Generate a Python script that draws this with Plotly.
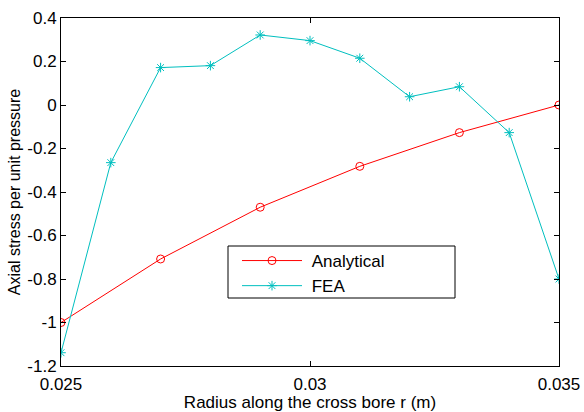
import plotly.graph_objects as go

# Radial positions (m)
r_analytical = [0.025, 0.027, 0.029, 0.031, 0.033, 0.035]
r_fea = [0.025, 0.026, 0.027, 0.028, 0.029, 0.030, 0.031, 0.032, 0.033, 0.034, 0.035]

# Axial stress normalised by internal pressure
stress_analytical = [-1.0, -0.708, -0.470, -0.282, -0.127, 0.0]
stress_fea = [-1.139, -0.265, 0.172, 0.181, 0.322, 0.296, 0.215, 0.038, 0.084, -0.127, -0.80]

x_ticks = [0.025, 0.03, 0.035]
x_ticklabels = ["0.025", "0.03", "0.035"]
y_ticks = [-1.2, -1.0, -0.8, -0.6, -0.4, -0.2, 0, 0.2, 0.4]
y_ticklabels = ["-1.2", "-1", "-0.8", "-0.6", "-0.4", "-0.2", "0", "0.2", "0.4"]

RED = "#ff0000"
CYAN = "#00bfbf"
FONT = "Liberation Sans, Arial"
NBSP = "\u00a0"

# plot-area geometry in pixels
W, H = 584, 412
L, R, T, B = 61, 25, 18, 46
PW, PH = W - L - R, H - T - B


def px_x(x):
    return (x - L) / PW


def px_y(y):
    return (H - B - y) / PH


fig = go.Figure()
fig.add_trace(go.Scatter(
    x=r_analytical, y=stress_analytical, name=NBSP + "Analytical",
    mode="lines+markers",
    line=dict(color=RED, width=1),
    marker=dict(symbol="circle-open", size=8, color=RED, line=dict(width=1)),
))
fig.add_trace(go.Scatter(
    x=r_fea, y=stress_fea, name=NBSP + "FEA",
    mode="lines+markers",
    line=dict(color=CYAN, width=1),
    marker=dict(symbol="asterisk-open", size=8, color=CYAN, line=dict(width=1, color=CYAN)),
))

axis_common = dict(
    showgrid=False, zeroline=False, automargin=False,
    showline=True, linecolor="black", linewidth=1,
    mirror="ticks", ticks="inside", ticklen=5, tickcolor="black",
    tickfont=dict(family=FONT, size=17, color="black"),
)

# legend frame
fig.add_shape(
    type="rect", xref="paper", yref="paper",
    x0=px_x(228), x1=px_x(455), y0=px_y(298), y1=px_y(246),
    line=dict(color="black", width=1), fillcolor="white", layer="above",
)

fig.update_layout(
    width=W, height=H,
    margin=dict(l=L, r=R, t=T, b=B),
    paper_bgcolor="white", plot_bgcolor="white",
    font=dict(family=FONT, size=17, color="black"),
    xaxis=dict(
        range=[0.025, 0.035], tickvals=x_ticks, ticktext=x_ticklabels,
        ticklabelstandoff=3,
        title=dict(text="Radius along the cross bore r (m)", standoff=4,
                   font=dict(size=17)),
        **axis_common,
    ),
    yaxis=dict(
        range=[-1.2, 0.4], tickvals=y_ticks, ticktext=y_ticklabels,
        title=dict(text="Axial stress per unit pressure", standoff=2,
                   font=dict(size=16)),
        **axis_common,
    ),
    showlegend=True,
    legend=dict(
        x=px_x(237), y=px_y(243),
        xanchor="left", yanchor="top",
        borderwidth=0, bgcolor="rgba(0,0,0,0)",
        font=dict(size=17), itemwidth=60, tracegroupgap=0,
    ),
)

fig.write_html("out.html")
